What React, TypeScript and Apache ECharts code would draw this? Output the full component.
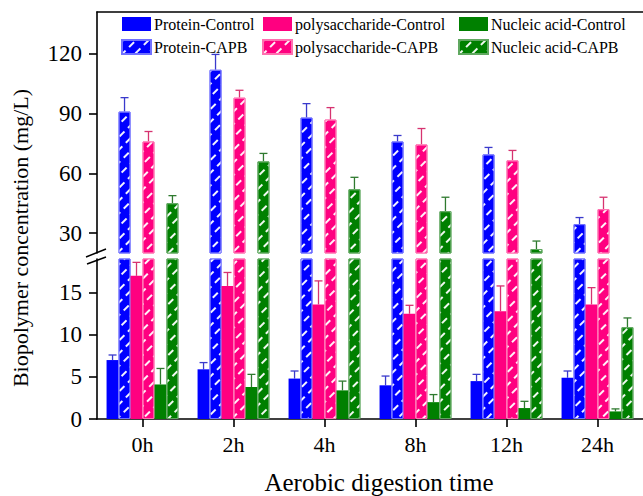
import React, { useEffect, useRef } from 'react';
import * as echarts from 'echarts';

const categories = ['0h', '2h', '4h', '8h', '12h', '24h'];

const proteinControl = [7.0, 5.9, 4.8, 4.0, 4.5, 4.9];
const proteinControlErr = [0.6, 0.8, 0.9, 1.1, 0.8, 0.8];
const proteinCAPB = [91, 112, 88, 76, 69.5, 34.5];
const proteinCAPBErr = [7, 7.7, 7, 3, 3.5, 3.3];
const polyControl = [17.0, 15.8, 13.6, 12.5, 12.8, 13.6];
const polyControlErr = [1.6, 1.6, 2.8, 1.0, 3.0, 2.0];
const polyCAPB = [76, 98, 87, 74.5, 66.5, 42];
const polyCAPBErr = [5, 3.7, 6, 8, 5, 6];
const nucleicControl = [4.1, 3.8, 3.4, 2.0, 1.3, 0.9];
const nucleicControlErr = [1.9, 1.5, 1.1, 0.9, 0.8, 0.3];
const nucleicCAPB = [45, 66, 52, 41, 22, 10.9];
const nucleicCAPBErr = [3.8, 4, 6, 7, 4, 1.1];

const upperTicks = [30, 60, 90, 120];
const lowerTicks = [0, 5, 10, 15];

const FONT = '"Liberation Serif", "Times New Roman", serif';
const BLUE = '#0000ff';
const PINK = '#ff0080';
const GREEN = '#008000';
const BAR_GAP = 0.21;

const hatch = {
  symbol: 'rect',
  symbolSize: 1,
  color: 'rgba(255,255,255,0.95)',
  dashArrayX: [7, 5],
  dashArrayY: [1.8, 6.5],
  rotation: -Math.PI / 4,
};

const seriesDefs = [
  { name: 'Protein-Control', values: proteinControl, errors: proteinControlErr, color: BLUE, border: BLUE, err: '#3a3acc', hatched: false },
  { name: 'Protein-CAPB', values: proteinCAPB, errors: proteinCAPBErr, color: BLUE, border: '#7070ff', err: '#3a3acc', hatched: true },
  { name: 'polysaccharide-Control', values: polyControl, errors: polyControlErr, color: PINK, border: PINK, err: '#d63370', hatched: false },
  { name: 'polysaccharide-CAPB', values: polyCAPB, errors: polyCAPBErr, color: PINK, border: '#ff70b0', err: '#d63370', hatched: true },
  { name: 'Nucleic acid-Control', values: nucleicControl, errors: nucleicControlErr, color: GREEN, border: GREEN, err: '#2f7a2f', hatched: false },
  { name: 'Nucleic acid-CAPB', values: nucleicCAPB, errors: nucleicCAPBErr, color: GREEN, border: '#60a860', err: '#2f7a2f', hatched: true },
];

const UPPER_MIN = 20;
const UPPER_MAX = 141;
const LOWER_MAX = 19;

function makeBars(gridIdx: number, keep: (v: number) => boolean) {
  return seriesDefs.map((d) => ({
    type: 'bar',
    name: d.name,
    xAxisIndex: gridIdx,
    yAxisIndex: gridIdx,
    data: d.values.map((v) => (keep(v) ? v : '-')),
    barGap: '0%',
    barCategoryGap: BAR_GAP * 100 + '%',
    clip: true,
    emphasis: { disabled: true },
    itemStyle: d.hatched
      ? { color: d.color, borderColor: d.border, borderWidth: 1, decal: hatch }
      : { color: d.color },
  }));
}

function makeErrors(gridIdx: number, keep: (v: number) => boolean) {
  return seriesDefs.map((d, k) => ({
    type: 'custom',
    xAxisIndex: gridIdx,
    yAxisIndex: gridIdx,
    silent: true,
    clip: false,
    data: d.values.map((v, i) => [i, v, d.errors[i]]).filter((p) => keep(p[1])),
    encode: { x: 0, y: 1 },
    renderItem: (params: any, api: any) => {
      const i = api.value(0);
      const v = api.value(1);
      const e = api.value(2);
      const base = api.coord([i, v]);
      const top = api.coord([i, v + e]);
      const band = api.size([1, 0])[0];
      const bw = (band * (1 - BAR_GAP)) / 6;
      const x = base[0] + (k - 2.5) * bw;
      const cap = 4;
      const style = { stroke: d.err, lineWidth: 1.3 };
      return {
        type: 'group',
        children: [
          { type: 'line', shape: { x1: x, y1: base[1], x2: x, y2: top[1] }, style },
          { type: 'line', shape: { x1: x - cap, y1: top[1], x2: x + cap, y2: top[1] }, style },
        ],
      };
    },
  }));
}

const axisLineStyle = { color: '#000', width: 1.6 };

function legendCol(names: string[], left: number) {
  return {
    data: names,
    left,
    top: 16,
    orient: 'vertical',
    itemWidth: 29,
    itemHeight: 14,
    itemGap: 7,
    padding: 0,
    icon: 'rect',
    selectedMode: false,
    textStyle: { fontSize: 16, fontFamily: FONT, color: '#000', fontWeight: 'normal', lineHeight: 14, padding: [0, 0, 0, -2] },
  };
}

export default function App() {
  const ref = useRef<HTMLDivElement>(null);

  useEffect(() => {
    if (!ref.current) return;
    const chart = echarts.init(ref.current, undefined, { renderer: 'svg' });
    const option: any = {
      animation: false,
      backgroundColor: '#fff',
      grid: [
        { left: 97, top: 12, width: 552, height: 241 },
        { left: 97, top: 259, width: 552, height: 160 },
      ],
      legend: [
        legendCol(['Protein-Control', 'Protein-CAPB'], 121),
        legendCol(['polysaccharide-Control', 'polysaccharide-CAPB'], 262),
        legendCol(['Nucleic acid-Control', 'Nucleic acid-CAPB'], 458),
      ],
      xAxis: [
        {
          gridIndex: 0,
          type: 'category',
          data: categories,
          position: 'top',
          axisLine: { show: true, lineStyle: axisLineStyle },
          axisTick: { show: false },
          axisLabel: { show: false },
          splitLine: { show: false },
        },
        {
          gridIndex: 1,
          type: 'category',
          data: categories,
          position: 'bottom',
          axisLine: { show: true, lineStyle: axisLineStyle },
          axisTick: { show: true, alignWithLabel: true, interval: 0, length: 8, lineStyle: axisLineStyle },
          axisLabel: { fontSize: 22, fontFamily: FONT, color: '#000', margin: 14, interval: 0 },
          splitLine: { show: false },
        },
      ],
      yAxis: [
        {
          gridIndex: 0,
          type: 'value',
          min: UPPER_MIN,
          max: UPPER_MAX,
          axisLine: { show: true, lineStyle: axisLineStyle },
          axisTick: { show: true, length: 8, lineStyle: axisLineStyle, customValues: upperTicks },
          axisLabel: { fontSize: 23, fontFamily: FONT, color: '#000', margin: 15, customValues: upperTicks },
          splitLine: { show: false },
        },
        {
          gridIndex: 1,
          type: 'value',
          min: 0,
          max: LOWER_MAX,
          axisLine: { show: true, lineStyle: axisLineStyle },
          axisTick: { show: true, length: 8, lineStyle: axisLineStyle, customValues: lowerTicks },
          axisLabel: { fontSize: 23, fontFamily: FONT, color: '#000', margin: 15, customValues: lowerTicks },
          splitLine: { show: false },
        },
      ],
      graphic: [
        {
          type: 'text',
          x: 20,
          y: 238,
          rotation: Math.PI / 2,
          style: {
            text: 'Biopolymer concentration (mg/L)',
            fontSize: 22,
            fontFamily: FONT,
            fill: '#000',
            align: 'center',
            verticalAlign: 'middle',
          },
        },
        {
          type: 'text',
          x: 379,
          y: 482,
          style: {
            text: 'Aerobic digestion time',
            fontSize: 25,
            fontFamily: FONT,
            fill: '#000',
            align: 'center',
            verticalAlign: 'middle',
          },
        },
        { type: 'line', shape: { x1: 86, y1: 257, x2: 106, y2: 249 }, style: { stroke: '#000', lineWidth: 1.5 } },
        { type: 'line', shape: { x1: 87, y1: 264, x2: 106, y2: 257 }, style: { stroke: '#000', lineWidth: 1.5 } },
      ],
      series: [
        ...makeBars(0, (v) => v >= UPPER_MIN),
        ...makeBars(1, () => true),
        ...makeErrors(0, (v) => v >= UPPER_MIN),
        ...makeErrors(1, (v) => v < LOWER_MAX),
      ],
    };
    chart.setOption(option);
    return () => chart.dispose();
  }, []);

  return (
    <div
      ref={ref}
      style={{ position: 'absolute', left: 0, top: 0, width: 643, height: 496, background: '#fff' }}
    />
  );
}
